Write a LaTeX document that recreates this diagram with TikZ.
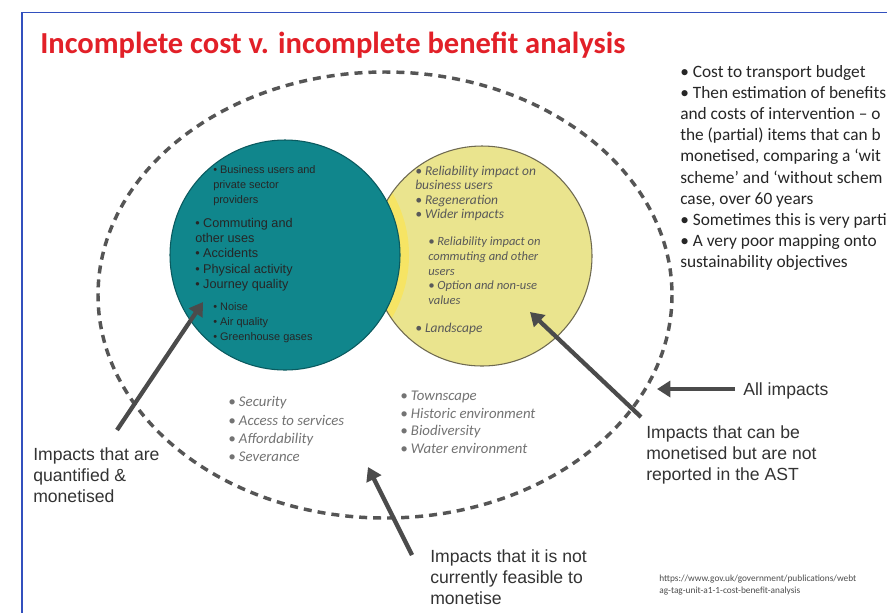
\documentclass[tikz,border=0pt]{standalone}
\usepackage{fontspec}
\setmainfont{Carlito}
\newfontfamily\arialf{Liberation Sans}
\usetikzlibrary{arrows.meta}

\definecolor{framec}{RGB}{50,80,190}
\definecolor{titlec}{RGB}{226,32,40}
\definecolor{tealc}{RGB}{16,134,140}
\definecolor{tealedge}{RGB}{10,90,95}
\definecolor{yelc}{RGB}{234,228,142}
\definecolor{yelbright}{RGB}{246,228,100}
\definecolor{yeledge}{RGB}{110,105,80}
\definecolor{ringc}{RGB}{85,85,85}
\definecolor{arrowc}{RGB}{75,75,75}

\begin{document}
\begin{tikzpicture}[x=0.75pt,y=-0.75pt,
  txt/.style={anchor=north west,inner sep=0pt,align=left},
  ptr/.style={draw=arrowc,line width=3.2pt,-{Triangle[width=12pt,length=10pt]}},
  callout/.style={txt,text=black!80,font=\arialf\fontsize{13.2}{15.75}\selectfont},
  tealtxt/.style={txt,text=black!85,font=\arialf\fontsize{8.2}{11.25}\selectfont},
  yeltxt/.style={txt,text=black!65,font=\itshape\fontsize{10.1}{10.9}\selectfont},
  outtxt/.style={txt,text=black!55,font=\itshape\fontsize{11.1}{13.7}\selectfont}]
\clip (0,0) rectangle (887,612);
\fill[white] (0,0) rectangle (887,612);
\draw[framec,line width=1.2pt] (22,12.5) rectangle (910,640);

\node[anchor=base west,inner sep=0pt,text=titlec,font=\bfseries\fontsize{22.9}{27}\selectfont]
  (title) at (40,53) {Incomplete cost v. incomplete benefit analysis};

% all impacts ring
\draw[ringc,line width=2.6pt,dash pattern=on 6pt off 4.5pt] (385,295) ellipse[x radius=287,y radius=223];

% the two circles
\node[circle,fill=yelc,minimum size=165pt,inner sep=0pt] (nr) at (482,256) {};
\begin{scope}
\clip (482,256) circle[radius=110];
\fill[yelbright] (285,255) circle[radius=124];
\end{scope}
\draw[yeledge,line width=0.8pt] (nr) circle[radius=110];
\node[circle,fill=tealc,draw=tealedge,line width=0.8pt,minimum size=172.5pt,inner sep=0pt] (qm) at (285,255) {};

% monetised in the AST
\node[tealtxt] (qm1) at (213,165) {• Business users and\\private sector\\providers};
\node[tealtxt,font=\arialf\fontsize{9.5}{11.4}\selectfont] (qm2) at (195,218)
  {• Commuting and\\other uses\\• Accidents\\• Physical activity\\• Journey quality};
\node[tealtxt] (qm3) at (213,302) {• Noise\\• Air quality\\• Greenhouse gases};

% monetised, not reported
\node[yeltxt] (nr1) at (415,165.5) {• Reliability impact on\\business users\\• Regeneration\\• Wider impacts};
\node[yeltxt,font=\itshape\fontsize{9.4}{11}\selectfont] (nr2) at (428,237)
  {• Reliability impact on\\commuting and other\\users\\• Option and non-use\\values};
\node[yeltxt] (nr3) at (415,322.5) {• Landscape};

% not monetised
\node[outtxt] (nf1) at (228,396.5) {• Security\\• Access to services\\• Affordability\\• Severance};
\node[outtxt,font=\itshape\fontsize{11.1}{13.3}\selectfont] (nf2) at (400,390.5)
  {• Townscape\\• Historic environment\\• Biodiversity\\• Water environment};

% notes, as far as the slide edge shows them
\node[txt,text=black!85,font=\fontsize{13}{15.9}\selectfont] (notes) at (680,64.7)
  {• Cost to transport budget\\• Then estimation of benefits\\and costs of intervention – o\\the (partial) items that can b\\monetised, comparing a ‘wit\\scheme’ and ‘without schem\\case, over 60 years\\• Sometimes this is very parti\\• A very poor mapping onto\\sustainability objectives};

% callouts
\node[callout] (lq) at (33,447) {Impacts that are\\quantified \&\\monetised};
\node[callout] (lm) at (646,425) {Impacts that can be\\monetised but are not\\reported in the AST};
\node[callout] (la) at (743,382) {All impacts};
\node[callout] (ln) at (430,549) {Impacts that it is not\\currently feasible to\\monetise};

\node[txt,text=black!70,font=\fontsize{7}{9}\selectfont] (src) at (659,575)
  {https://www.gov.uk/government/publications/webt\\ag-tag-unit-a1-1-cost-benefit-analysis};

\coordinate (lqtail) at (117,430);
\coordinate (lqtip) at (203,302);
\coordinate (lmtail) at (641,417);
\coordinate (lmtip) at (530,312);
\coordinate (latail) at (735,389);
\coordinate (latip) at (657,389);
\coordinate (lntail) at (412,555);
\coordinate (lntip) at (368,467);
\draw[ptr] (lqtail) -- (lqtip);
\draw[ptr] (lmtail) -- (lmtip);
\draw[ptr] (latail) -- (latip);
\draw[ptr] (lntail) -- (lntip);
\end{tikzpicture}
\end{document}
